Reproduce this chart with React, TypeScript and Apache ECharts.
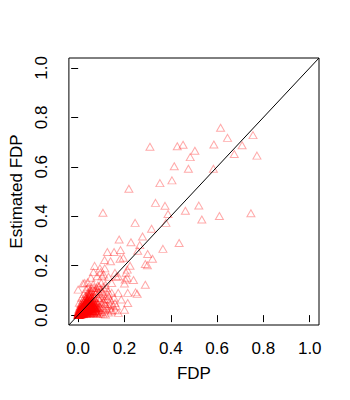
import React, { useEffect, useRef } from "react";
import * as echarts from "echarts";

// [FDP, Estimated FDP] pairs
const sparsePoints: [number, number][] = [
  [0.310, 0.681], [0.428, 0.683], [0.453, 0.689], [0.504, 0.665], [0.484, 0.639],
  [0.415, 0.602], [0.476, 0.592], [0.584, 0.592], [0.586, 0.690], [0.615, 0.758],
  [0.645, 0.717], [0.708, 0.687], [0.674, 0.652], [0.755, 0.728], [0.772, 0.645],
  [0.353, 0.534], [0.405, 0.545], [0.219, 0.511], [0.334, 0.454], [0.375, 0.442],
  [0.521, 0.443], [0.463, 0.422], [0.388, 0.409], [0.107, 0.414], [0.610, 0.401],
  [0.746, 0.412], [0.534, 0.387], [0.246, 0.373], [0.379, 0.373], [0.317, 0.349],
  [0.278, 0.318], [0.177, 0.306], [0.436, 0.292], [0.228, 0.295], [0.266, 0.283],
  [0.366, 0.268], [0.126, 0.255], [0.155, 0.255], [0.183, 0.263], [0.257, 0.260],
  [0.300, 0.247], [0.114, 0.223], [0.140, 0.218], [0.181, 0.228], [0.195, 0.232],
  [0.321, 0.228], [0.290, 0.207], [0.299, 0.202], [0.224, 0.200], [0.071, 0.199],
  [0.094, 0.189], [0.115, 0.189], [0.212, 0.184], [0.066, 0.174], [0.239, 0.142],
  [0.203, 0.144], [0.290, 0.123], [0.255, 0.086], [0.082, 0.157], [0.103, 0.157],
  [0.131, 0.155], [0.055, 0.151], [0.165, 0.155], [0.207, 0.171], [0.097, 0.173],
  [0.110, 0.164], [0.021, 0.128], [0.041, 0.133], [0.159, 0.171], [0.173, 0.157],
  [0.211, 0.151], [0.200, 0.128], [0.145, 0.130], [0.118, 0.123], [0.090, 0.117],
  [0.248, 0.092], [0.214, 0.090], [0.173, 0.090], [0.186, 0.063], [0.159, 0.049],
  [0.214, 0.049], [0.200, 0.022], [0.145, 0.022], [0.173, 0.009], [0.131, 0.076],
  [0.165, 0.036], [0.000, 0.103], [0.028, 0.130],
];

const haloPoints: [number, number][] = [
  [0.100, 0.012], [0.105, 0.030], [0.110, 0.052], [0.098, 0.070], [0.115, 0.020],
  [0.120, 0.038], [0.125, 0.065], [0.090, 0.090], [0.105, 0.095], [0.130, 0.010],
  [0.135, 0.030], [0.140, 0.060], [0.112, 0.078], [0.095, 0.105], [0.080, 0.110],
  [0.070, 0.100], [0.060, 0.110], [0.050, 0.100], [0.040, 0.090], [0.030, 0.075],
  [0.020, 0.060], [0.012, 0.045], [0.008, 0.035], [0.025, 0.085], [0.065, 0.125],
  [0.085, 0.120], [0.100, 0.130], [0.120, 0.110], [0.145, 0.090], [0.150, 0.040],
  [0.160, 0.020], [0.155, 0.070], [0.130, 0.095], [0.075, 0.085], [0.088, 0.070],
  [0.102, 0.050], [0.118, 0.002], [0.108, 0.004], [0.045, 0.115], [0.035, 0.105],
  [0.015, 0.070], [0.005, 0.050], [0.093, 0.058], [0.117, 0.045], [0.128, 0.083],
  [0.083, 0.098], [0.068, 0.112], [0.107, 0.115], [0.138, 0.045], [0.124, 0.025],
  [0.097, 0.085], [0.058, 0.098], [0.078, 0.094], [0.113, 0.063], [0.143, 0.015],
];

const corePoints: [number, number][] = [
  [0, 0], [0.001, 0.002], [0.003, 0.001], [0.002, 0.006], [0.005, 0.003], [0.004, 0.009],
  [0.007, 0.005], [0.006, 0.012], [0.009, 0.002], [0.008, 0.008], [0.011, 0.006], [0.010, 0.013],
  [0.003, 0.015], [0.013, 0.010], [0.012, 0.017], [0.015, 0.004], [0.007, 0.019], [0.014, 0.014],
  [0.017, 0.008], [0.016, 0.021], [0.010, 0.024], [0.019, 0.012], [0.018, 0.018], [0.021, 0.003],
  [0.013, 0.027], [0.020, 0.025], [0.023, 0.009], [0.022, 0.015], [0.017, 0.031], [0.025, 0.020],
  [0.024, 0.028], [0.027, 0.006], [0.020, 0.035], [0.026, 0.013], [0.029, 0.024], [0.028, 0.033],
  [0.031, 0.010], [0.023, 0.040], [0.030, 0.017], [0.033, 0.029], [0.032, 0.037], [0.035, 0.004],
  [0.027, 0.045], [0.034, 0.021], [0.037, 0.014], [0.036, 0.042], [0.031, 0.050], [0.039, 0.026],
  [0.038, 0.033], [0.041, 0.008], [0.035, 0.055], [0.040, 0.047], [0.043, 0.019], [0.042, 0.038],
  [0.038, 0.061], [0.045, 0.030], [0.044, 0.052], [0.047, 0.011], [0.041, 0.067], [0.046, 0.043],
  [0.049, 0.023], [0.048, 0.058], [0.044, 0.073], [0.051, 0.035], [0.050, 0.015], [0.053, 0.048],
  [0.047, 0.079], [0.052, 0.064], [0.055, 0.027], [0.054, 0.006], [0.057, 0.040], [0.050, 0.086],
  [0.056, 0.070], [0.059, 0.019], [0.058, 0.053], [0.061, 0.032], [0.054, 0.092], [0.060, 0.076],
  [0.063, 0.012], [0.062, 0.045], [0.065, 0.024], [0.064, 0.061], [0.067, 0.037], [0.066, 0.083],
  [0.069, 0.008], [0.068, 0.050], [0.071, 0.017], [0.070, 0.069], [0.073, 0.029], [0.075, 0.042],
  [0.074, 0.058], [0.077, 0.011], [0.079, 0.023], [0.078, 0.036], [0.081, 0.051], [0.083, 0.004],
  [0.082, 0.016], [0.085, 0.028], [0.087, 0.044], [0.089, 0.010], [0.091, 0.021], [0.094, 0.035],
  [0.096, 0.006],
  [0, 0.003], [0.002, 0], [0.004, 0.005], [0.001, 0.009], [0.006, 0.007], [0.003, 0.011],
  [0.008, 0.003], [0.005, 0.014], [0.010, 0.009], [0.009, 0.016], [0.012, 0.004], [0.014, 0.011],
  [0.011, 0.020], [0.016, 0.015], [0.018, 0.005], [0.015, 0.024], [0.020, 0.010], [0.019, 0.028],
  [0.022, 0.020], [0.024, 0.013], [0.021, 0.033], [0.026, 0.024], [0.028, 0.016], [0.025, 0.038],
  [0.030, 0.028], [0.032, 0.007], [0.029, 0.042], [0.034, 0.033], [0.036, 0.024], [0.033, 0.048],
  [0.037, 0.039], [0.040, 0.017], [0.039, 0.054], [0.043, 0.044], [0.045, 0.004], [0.046, 0.036],
  [0.048, 0.049], [0.052, 0.026], [0.055, 0.039], [0.058, 0.009], [0.060, 0.031], [0.063, 0.052],
  [0.066, 0.015], [0.072, 0.040], [0.076, 0.025], [0.080, 0.014], [0.086, 0.031], [0.001, 0],
  [0, 0.001], [0.002, 0.004], [0.004, 0.001], [0.007, 0.010], [0.013, 0.007], [0.017, 0.012],
  [0.023, 0.017], [0.027, 0.021], [0.012, 0.001], [0, 0.007], [0.006, 0],
  [0.003, 0.004], [0.005, 0.008], [0.009, 0.005], [0.011, 0.011], [0.014, 0.006], [0.016, 0.018],
  [0.019, 0.008], [0.021, 0.022], [0.024, 0.005], [0.026, 0.030], [0.029, 0.013], [0.031, 0.036],
  [0.033, 0.018], [0.035, 0.045], [0.037, 0.008], [0.039, 0.031], [0.042, 0.050], [0.044, 0.025],
  [0.046, 0.063], [0.049, 0.040], [0.051, 0.071], [0.053, 0.018], [0.056, 0.055], [0.059, 0.036],
  [0.062, 0.066], [0.065, 0.005], [0.068, 0.042], [0.071, 0.030], [0.074, 0.019], [0.078, 0.048],
  [0.002, 0.018], [0.004, 0.025], [0.008, 0.030], [0.012, 0.036], [0.016, 0.041], [0.020, 0.048],
  [0.025, 0.055], [0.030, 0.062], [0.034, 0.069], [0.039, 0.076], [0.043, 0.084], [0.048, 0.093],
];

// extra dense overlap near the origin
const originPoints: [number, number][] = [
  [0.001, 0.001], [0.002, 0.003], [0.004, 0.002], [0.003, 0.007], [0.006, 0.004], [0.005, 0.010],
  [0.008, 0.006], [0.007, 0.013], [0.010, 0.003], [0.009, 0.010], [0.012, 0.008], [0.011, 0.016],
  [0.004, 0.019], [0.014, 0.004], [0.013, 0.013], [0.015, 0.009], [0.008, 0.022], [0.016, 0.013],
  [0.018, 0.010], [0.017, 0.023], [0.012, 0.027], [0.020, 0.007], [0.019, 0.017], [0.022, 0.011],
  [0.015, 0.030], [0.021, 0.027], [0.024, 0.021], [0.023, 0.004], [0.018, 0.034], [0.026, 0.016],
  [0.025, 0.031], [0.028, 0.010], [0.022, 0.038], [0.027, 0.026], [0.030, 0.021], [0.029, 0.035],
  [0.032, 0.014], [0.026, 0.043], [0.031, 0.030], [0.034, 0.025], [0.033, 0.040], [0.036, 0.010],
  [0.030, 0.047], [0.035, 0.035], [0.038, 0.020], [0.037, 0.046], [0.034, 0.052], [0.040, 0.029],
  [0.041, 0.041], [0.043, 0.013], [0.039, 0.058], [0.044, 0.035], [0.046, 0.020], [0.045, 0.048],
  [0.042, 0.063], [0.048, 0.029], [0.047, 0.055], [0.050, 0.009], [0.052, 0.042], [0.054, 0.031],
  [0.049, 0.074], [0.055, 0.050], [0.057, 0.015], [0.053, 0.082], [0.059, 0.044], [0.061, 0.024],
  [0.064, 0.038], [0.067, 0.010], [0.070, 0.033], [0.073, 0.015], [0.077, 0.030], [0.081, 0.008],
];

const tickValues = [0, 0.2, 0.4, 0.6, 0.8, 1.0];
const axisMin = -0.04;
const axisMax = 1.04;
const xTitle = "FDP";
const yTitle = "Estimated FDP";

const FONT = "'Liberation Sans', Arial, Helvetica, sans-serif";

export default function App() {
  const ref = useRef<HTMLDivElement>(null);
  useEffect(() => {
    if (!ref.current) return;
    document.body.style.margin = "0";
    const chart = echarts.init(ref.current, null, { renderer: "svg" });
    const axisCommon = {
      type: "value",
      min: axisMin,
      max: axisMax,
      nameLocation: "middle",
      nameTextStyle: { fontFamily: FONT, fontSize: 17, color: "#000" },
      axisLine: { show: false },
      splitLine: { show: false },
      axisTick: {
        show: true,
        length: 7,
        customValues: tickValues,
        lineStyle: { color: "#000", width: 1 },
      },
      axisLabel: {
        customValues: tickValues,
        formatter: (v: number) => v.toFixed(1),
        fontFamily: FONT,
        fontSize: 17,
        color: "#000",
      },
    };
    chart.setOption({
      animation: false,
      backgroundColor: "#fff",
      grid: {
        left: 59,
        right: 31,
        top: 58,
        bottom: 75,
        show: true,
        borderColor: "#000",
        borderWidth: 1,
        backgroundColor: "transparent",
      },
      xAxis: {
        ...axisCommon,
        name: xTitle,
        nameGap: 40,
        axisLabel: { ...axisCommon.axisLabel, margin: 15 },
      },
      yAxis: {
        ...axisCommon,
        name: yTitle,
        nameGap: 41,
        nameRotate: 90,
        axisLabel: { ...axisCommon.axisLabel, margin: 19, rotate: 90 },
      },
      series: [
        {
          type: "scatter",
          data: [...originPoints, ...corePoints, ...haloPoints, ...sparsePoints],
          symbol: "triangle",
          symbolSize: [8, 7],
          itemStyle: {
            color: "transparent",
            borderColor: "rgba(255,0,0,0.42)",
            borderWidth: 1,
          },
          silent: true,
        },
        {
          type: "line",
          data: [
            [axisMin, axisMin],
            [axisMax, axisMax],
          ],
          showSymbol: false,
          symbol: "none",
          lineStyle: { color: "#000", width: 1 },
          silent: true,
          z: 5,
        },
      ],
    });
    return () => chart.dispose();
  }, []);
  return <div ref={ref} style={{ width: 350, height: 400 }} />;
}
